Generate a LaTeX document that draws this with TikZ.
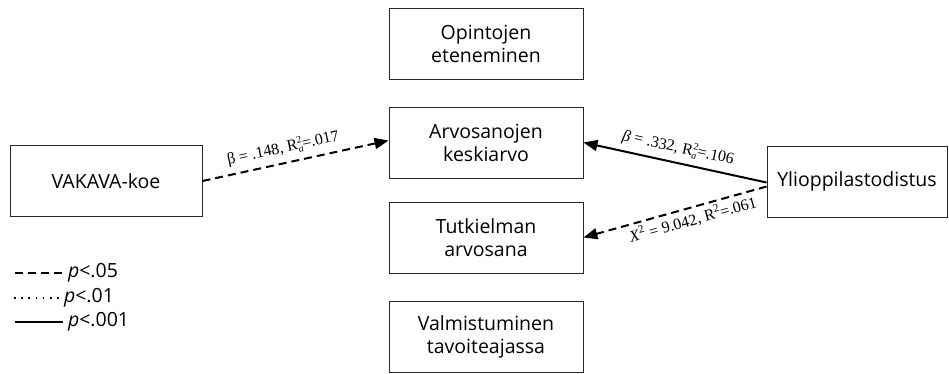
\documentclass[tikz,border=0pt]{standalone}
\usepackage{fontspec}
\setmainfont{Liberation Serif}
\setsansfont{Open Sans}
\usetikzlibrary{arrows.meta}

\newcommand{\Rsa}{R\raisebox{-3.5pt}{\fontsize{10}{10}\selectfont\begin{tabular}[b]{@{}l@{}}2\\\itshape a\end{tabular}}}

\begin{document}
\begin{tikzpicture}[x=1pt, y=-1pt,
	box/.style={draw=black!85, line width=0.9pt, minimum width=194pt, minimum height=71pt, inner sep=0pt, align=center, font=\sffamily\fontsize{19.5}{23}\selectfont},
	effect/.style={line width=2pt, -{Triangle[length=14pt,width=11pt]}},
	sig05/.style={dash pattern=on 8pt off 5pt},
	sig01/.style={line width=2pt, dash pattern=on 1.6pt off 5.6pt},
	stat/.style={sloped, font=\fontsize{16}{16}\selectfont},
	legend/.style={right, inner xsep=4pt, inner ysep=0pt, font=\sffamily\fontsize{19.5}{20}\selectfont}]
	\useasboundingbox (0,0) rectangle (949,373);

	\node[box] (eten) at (486,44) {Opintojen\\eteneminen};
	\node[box] (ka) at (486,142.5) {Arvosanojen\\keskiarvo};
	\node[box] (tutk) at (486,237.5) {Tutkielman\\arvosana};
	\node[box] (valm) at (486,336.5) {Valmistuminen\\tavoiteajassa};
	\node[box, minimum width=192pt] (vakava) at (106,181) {VAKAVA-koe};
	\node[box, minimum width=180pt] (ylio) at (857,181.5) {Ylioppilastodistus};

	\draw[effect, sig05] (vakava.east) -- ([yshift=2pt]ka.west) node[stat, above, pos=0.45, inner sep=3pt] (l1) {β = .148, \Rsa=.017};
	\draw[effect] ([yshift=-1pt]ylio.west) -- (ka.east) node[stat, above, pos=0.5, inner sep=3pt] (l2) {\textit{β} = .332, \Rsa=.106};
	\draw[effect, sig05] ([yshift=-5pt]ylio.west) -- (tutk.east) node[stat, below, pos=0.42, inner sep=3pt] (l3) {\textit{X}\textsuperscript{2} = 9.042, R\textsuperscript{2}=.061};

	\draw[line width=2pt, sig05] (15,273) -- (63,273) node[legend] (p05) {\textit{p}<.05};
	\draw[sig01] (14,298) -- (59,298) node[legend] (p01) {\textit{p}<.01};
	\draw[line width=2pt] (15,322) -- (63,322) node[legend] (p001) {\textit{p}<.001};
\end{tikzpicture}
\end{document}
